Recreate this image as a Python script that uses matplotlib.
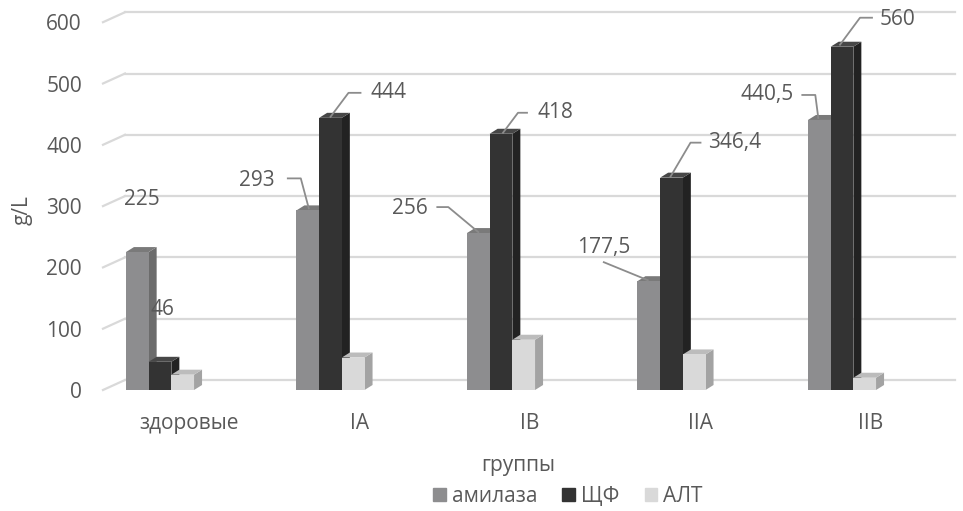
import matplotlib
matplotlib.use('Agg')
import matplotlib.pyplot as plt
from matplotlib.patches import Polygon, Patch
from matplotlib.lines import Line2D
from matplotlib.transforms import IdentityTransform

plt.rcParams['font.family'] = ['Open Sans', 'DejaVu Sans']

# data
groups = ['здоровые', 'IA', 'IB', 'IIA', 'IIB']
series = ['амилаза', 'ЩФ', 'АЛТ']
amylase = [225, 293, 256, 177.5, 440.5]
alp = [46, 444, 418, 346.4, 560]
alt = [25, 53, 82, 58, 20]
yticks = [0, 100, 200, 300, 400, 500, 600]

values = [amylase, alp, alt]
front = ['#8d8d8f', '#333333', '#d9d9d9']
side = ['#6c6c6c', '#222222', '#a3a3a3']
top = ['#7a7a7a', '#474747', '#bcbcbc']
txt = '#595959'
fs = 15

W, H = 963, 511
fig = plt.figure(figsize=(W / 100, H / 100), dpi=100)
# axes: pixel 100..963 wide, 0..400 tall
ax = fig.add_axes([100 / W, (H - 400) / H, 863 / W, 400 / H])
ax.set_xlim((100 - 160) / 170.5, (963 - 160) / 170.5)
ax.set_ylim(-10 / 0.613, 390 / 0.613)
ax.set_autoscale_on(False)
for s in ax.spines.values():
    s.set_visible(False)

bw = 22.7 / 170.5
bdx, bdy = 8 / 170.5, 5 / 0.613        # bar depth
wdx, wdy = 22 / 170.5, 10 / 0.613      # wall depth
xl = (103 - 160) / 170.5
grid_c = '#d9d9d9'

for v in yticks:
    ax.plot([xl, xl + wdx], [v, v + wdy], color=grid_c, lw=1.6, zorder=1)
    ax.plot([xl + wdx, (955 - 160) / 170.5], [v + wdy, v + wdy], color=grid_c, lw=1.6, zorder=1)

x = list(range(len(groups)))
bars_all = []
for k, vals in enumerate(values):
    pos = [i + (k - 1) * bw for i in x]
    bars = ax.bar(pos, vals, width=bw, color=front[k], zorder=3 + k * 3, linewidth=0)
    bars_all.append(bars)
    for r in bars:
        x0, w, h = r.get_x(), r.get_width(), r.get_height()
        x1 = x0 + w
        ax.add_patch(Polygon([(x1, 0), (x1 + bdx, bdy), (x1 + bdx, h + bdy), (x1, h)],
                             closed=True, fc=side[k], ec='none', zorder=2 + k * 3))
        ax.add_patch(Polygon([(x0, h), (x0 + bdx, h + bdy), (x1 + bdx, h + bdy), (x1, h)],
                             closed=True, fc=top[k], ec='none', zorder=2 + k * 3))

ax.set_yticks(yticks)
ax.set_yticklabels([str(t) for t in yticks], fontsize=fs, color=txt)
ax.tick_params(axis='y', length=0, pad=13)
ax.set_xticks([i + 0.17 for i in x])
ax.set_xticklabels(groups, fontsize=fs, color=txt)
ax.tick_params(axis='x', length=0, pad=9)


def fmt(v):
    s = ('%g' % v).replace('.', ',')
    return s


# label layout (pixels, relative to front top centre of the bar; y downward)
layout_amyl = [
    ((5, -53, 'center'), []),
    ((-33, -30, 'right'), [(-20, -32), (-7, -32), (1, -2)]),
    ((-51, -25, 'right'), [(-41, -26), (-30, -26), (0, -1)]),
    ((-18, -34, 'right'), [(-45, -19), (-1, -1)]),
    ((-26, -25, 'right'), [(-17, -25), (-4, -25), (-1, -2)]),
]
layout_alp = [
    ((2, -52, 'center'), []),
    ((40, -25, 'left'), [(0, -1), (18, -25), (30, -25)]),
    ((36, -21, 'left'), [(2, -1), (17, -21), (26, -21)]),
    ((37, -35, 'left'), [(-1, -1), (19, -35), (29, -35)]),
    ((38, -27, 'left'), [(-2, -2), (18, -29), (30, -29)]),
]

for k, layout in [(0, layout_amyl), (1, layout_alp)]:
    for r, ((tdx, tdy, ha), pts) in zip(bars_all[k], layout):
        cx = r.get_x() + r.get_width() / 2
        X, Y = ax.transData.transform((cx, r.get_height()))
        fig.text((X + tdx) / W, (Y - tdy) / H, fmt(r.get_height()), fontsize=fs,
                 color=txt, ha=ha, va='center', zorder=20)
        if pts:
            xs = [X + p[0] for p in pts]
            ys = [Y - p[1] for p in pts]
            fig.add_artist(Line2D(xs, ys, transform=IdentityTransform(),
                                  color='#8c8c8c', lw=1.3, zorder=19))

fig.text(22 / W, 1 - 210 / H, 'g/L', rotation=90, fontsize=fs, color=txt,
         ha='center', va='center')
fig.text(518 / W, 1 - 465 / H, 'группы', fontsize=fs, color=txt,
         ha='center', va='center')

handles = [Patch(color=front[k], label=series[k]) for k in range(3)]
fig.legend(handles=handles, loc='center', bbox_to_anchor=(568 / W, 1 - 496 / H),
           ncol=3, frameon=False, fontsize=fs, labelcolor=txt,
           handlelength=0.6, handleheight=0.6, handletextpad=0.3, columnspacing=1.2)

fig.savefig('out.png', dpi=100)
